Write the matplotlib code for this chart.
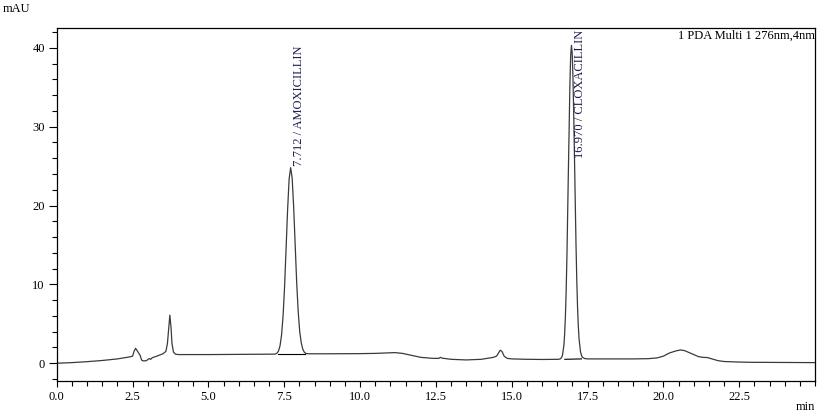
import matplotlib
matplotlib.use("Agg")
import matplotlib.pyplot as plt
from matplotlib.ticker import MultipleLocator

plt.rcParams['font.family'] = ['Liberation Serif', 'DejaVu Serif']

# chromatogram trace (min, mAU)
time_min = [
    0.0, 0.5, 1.0, 1.5, 2.0, 2.4, 2.5, 2.55, 2.6, 2.65, 2.7, 2.75, 2.8, 2.85,
    2.95, 3.0, 3.05, 3.1, 3.15, 3.3, 3.5, 3.6, 3.65, 3.7, 3.73, 3.77, 3.8,
    3.85, 3.92, 4.0, 5.0, 6.0, 7.0, 7.2,
    7.262, 7.312, 7.362, 7.412, 7.462, 7.512, 7.562, 7.612, 7.662, 7.712,
    7.762, 7.812, 7.862, 7.912, 7.962, 8.012, 8.062, 8.112, 8.162, 8.212, 8.3,
    9.0, 10.0, 10.5, 11.0, 11.15, 11.4, 11.7, 12.0, 12.4, 12.6, 12.65, 12.7,
    13.0, 13.5, 14.0, 14.4, 14.5, 14.55, 14.62, 14.68, 14.75, 14.85, 15.0,
    15.5, 16.0, 16.5, 16.55,
    16.62, 16.67, 16.72, 16.745, 16.77, 16.795, 16.82, 16.845, 16.87, 16.895,
    16.92, 16.945, 16.97, 16.995, 17.02, 17.045, 17.07, 17.095, 17.12, 17.145,
    17.17, 17.195, 17.22, 17.27, 17.32, 17.4,
    17.5, 18.0, 18.5, 19.0, 19.5, 19.8, 20.0, 20.2, 20.4, 20.56, 20.7, 20.9,
    21.15, 21.3, 21.45, 21.6, 21.8, 22.0, 22.5, 22.9, 24.0, 25.0,
]
signal_mau = [
    0.0, 0.08, 0.2, 0.35, 0.55, 0.8, 0.9, 1.5, 1.9, 1.6, 1.3, 1.0, 0.4, 0.3,
    0.32, 0.45, 0.6, 0.5, 0.7, 0.9, 1.2, 1.5, 2.5, 4.8, 6.1, 4.5, 2.5,
    1.4, 1.15, 1.1, 1.1, 1.12, 1.15, 1.16,
    1.28, 1.55, 2.2, 3.55, 5.95, 9.65, 14.45, 19.45, 23.35, 24.8,
    23.5, 19.8, 15.0, 10.2, 6.5, 4.0, 2.6, 1.8, 1.4, 1.25, 1.2,
    1.2, 1.22, 1.25, 1.33, 1.35, 1.25, 1.0, 0.75, 0.62, 0.62, 0.75, 0.65,
    0.5, 0.42, 0.5, 0.75, 0.9, 1.2, 1.65, 1.5, 0.9, 0.62, 0.55,
    0.5, 0.48, 0.5, 0.5,
    0.59, 0.94, 2.25, 3.7, 5.9, 9.1, 13.4, 18.7, 24.7, 30.5,
    35.6, 39.1, 40.3, 39.3, 36.2, 31.5, 26.0, 20.3, 15.0, 10.6,
    7.2, 4.8, 3.1, 1.4, 0.8, 0.6,
    0.55, 0.55, 0.55, 0.55, 0.58, 0.68, 0.9, 1.3, 1.55, 1.69, 1.6, 1.27,
    0.85, 0.75, 0.72, 0.55, 0.33, 0.22, 0.15, 0.12, 0.1, 0.08,
]

# integration baselines under the two named peaks
base_t = [(7.3, 8.2), (16.75, 17.3)]
base_y = [(1.2, 1.2), (0.5, 0.55)]

peak_names = ["AMOXICILLIN", "CLOXACILLIN"]
peak_rt = [7.712, 16.970]
peak_height = [24.8, 40.3]

fig = plt.figure(figsize=(8.17, 4.13), dpi=100)
ax = fig.add_axes([0.0694, 0.0775, 0.9282, 0.8545])

ax.plot(time_min, signal_mau, color='#3a3a3a', lw=0.9)
for bt, by in zip(base_t, base_y):
    ax.plot(bt, by, color='black', lw=0.8)

ax.set_xlim(0, 25)
ax.set_ylim(-2.25, 42.5)

# peak annotations
for name, rt, h in zip(peak_names, peak_rt, peak_height):
    label = f"{rt:.3f} / {name}"
    if h > 30:
        ax.text(rt + 0.27, 42.3, label, rotation=90, ha='center', va='top',
                fontsize=9, color='#1c1c50')
    else:
        ax.text(rt + 0.27, h + 0.2, label, rotation=90, ha='center', va='bottom',
                fontsize=9, color='#1c1c50')

ax.text(1.0, 0.995, "1 PDA Multi 1 276nm,4nm", transform=ax.transAxes,
        ha='right', va='top', fontsize=9)

ax.xaxis.set_major_locator(MultipleLocator(2.5))
ax.xaxis.set_minor_locator(MultipleLocator(0.5))
ax.yaxis.set_major_locator(MultipleLocator(10))
ax.yaxis.set_minor_locator(MultipleLocator(2))
ax.xaxis.set_major_formatter(plt.FormatStrFormatter('%.1f'))
ax.set_xticks([0, 2.5, 5, 7.5, 10, 12.5, 15, 17.5, 20, 22.5])

ax.tick_params(axis='both', which='major', direction='out', length=5.5,
               width=0.8, labelsize=9, pad=3)
ax.tick_params(axis='x', which='major', length=4)
ax.tick_params(axis='both', which='minor', direction='out', length=3.5, width=0.8)
for s in ax.spines.values():
    s.set_linewidth(0.9)

fig.text(3 / 817, 1 - 9 / 413, "mAU", ha='left', va='center', fontsize=9)
fig.text(815 / 817, 1 - 407 / 413, "min", ha='right', va='center', fontsize=9)

fig.savefig("out.png", dpi=100)
